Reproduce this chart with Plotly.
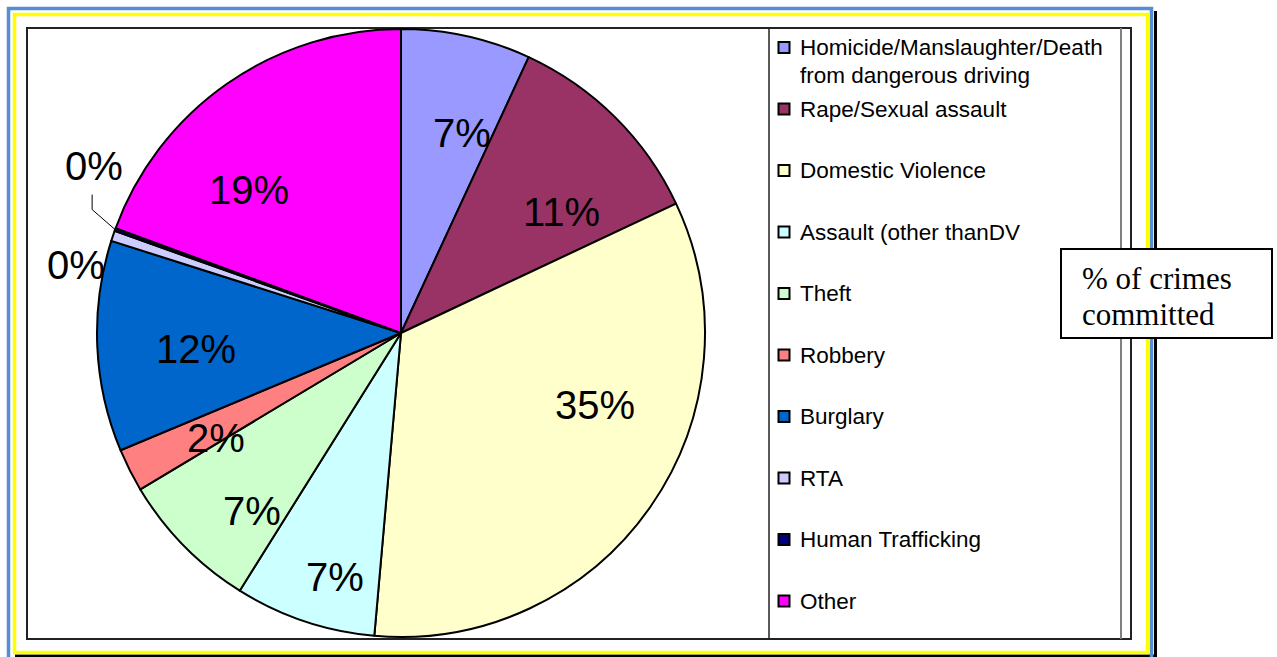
import math
import plotly.graph_objects as go

# ---------------- data ----------------
categories = ["Homicide/Manslaughter/Death from dangerous driving", "Rape/Sexual assault",
              "Domestic Violence", "Assault (other thanDV", "Theft", "Robbery", "Burglary",
              "RTA", "Human Trafficking", "Other"]
legend_labels = ["Homicide/Manslaughter/Death<br>from dangerous driving", "Rape/Sexual assault",
                 "Domestic Violence", "Assault (other thanDV", "Theft", "Robbery", "Burglary",
                 "RTA", "Human Trafficking", "Other"]
shares = [6.9, 11.1, 33.4, 7.5, 7.5, 2.3, 11.2, 0.55, 0.15, 19.4]
pct_labels = ["7%", "11%", "35%", "7%", "7%", "2%", "12%", "0%", "0%", "19%"]
colors = ["#9999FF", "#993366", "#FFFFCC", "#CCFFFF", "#CCFFCC", "#FF8080",
          "#0066CC", "#CCCCFF", "#000080", "#FF00FF"]
box_lines = ["% of crimes", "committed"]

# ---------------- layout constants (pixels) ----------------
W, H = 1277, 657
CX, CY, R = 401, 333, 304
FONT = "Liberation Sans, Arial, sans-serif"


def px(x):
    return x / W


def py(y):
    return 1 - y / H


# per-label nudges (pixels) to imitate the original label placement
label_nudge = [(17, 2), (15, 26), (24, -46), (0, 48), (-1, 33), (-1, 12), (2, 7),
               (-37, 29), (0, 0), (-34, 27)]

fig = go.Figure()
fig.add_trace(go.Pie(
    labels=categories, values=shares, sort=False, direction="clockwise", rotation=0,
    marker=dict(colors=colors, line=dict(color="black", width=2)),
    textinfo="none", hoverinfo="label+percent", showlegend=False,
    domain=dict(x=[px(CX - R), px(CX + R)], y=[py(CY + R), py(CY - R)]),
))

shapes = []
annotations = []

# frame
shapes.append(dict(type="rect", xref="paper", yref="paper", x0=px(1154), x1=px(1157), y0=py(660), y1=py(11),
                   line=dict(width=0), fillcolor="black", layer="below"))
shapes.append(dict(type="rect", xref="paper", yref="paper", x0=px(15), x1=px(1157), y0=py(657.5), y1=py(654.5),
                   line=dict(width=0), fillcolor="black", layer="below"))
shapes.append(dict(type="rect", xref="paper", yref="paper", x0=px(8.5), x1=px(1151.5), y0=py(662), y1=py(8.5),
                   line=dict(color="#558ED5", width=3.5), layer="below"))
shapes.append(dict(type="rect", xref="paper", yref="paper", x0=px(14.5), x1=px(1147.5), y0=py(652.5), y1=py(14.5),
                   line=dict(color="#FFFF00", width=3.5), layer="below"))
# plot area border
shapes.append(dict(type="rect", xref="paper", yref="paper", x0=px(27), x1=px(1131), y0=py(639), y1=py(28),
                   line=dict(color="#222222", width=2), layer="below"))
# legend box
shapes.append(dict(type="line", xref="paper", yref="paper", x0=px(769), x1=px(769), y0=py(639), y1=py(28),
                   line=dict(color="#222222", width=1.5), layer="below"))
shapes.append(dict(type="line", xref="paper", yref="paper", x0=px(1121), x1=px(1121), y0=py(639), y1=py(28),
                   line=dict(color="#808080", width=2), layer="below"))

# slice labels, computed from the cumulative shares
total = sum(shares)
cum = 0.0
mids = []
for v in shares:
    mids.append((cum + v / 2) / total * 2 * math.pi)
    cum += v

LABEL_SIZE = 40
for i, (lab, th) in enumerate(zip(pct_labels, mids)):
    if i == 8:
        continue
    rr = 0.68 * R if i != 7 else R
    x = CX + rr * math.sin(th) + label_nudge[i][0]
    y = CY - rr * math.cos(th) + label_nudge[i][1]
    annotations.append(dict(x=px(x), y=py(y), xref="paper", yref="paper", text=lab, showarrow=False,
                            font=dict(family=FONT, size=LABEL_SIZE, color="black"),
                            xanchor="center", yanchor="middle"))

# human trafficking label with bent leader line
th = mids[8]
rx, ry = CX + R * math.sin(th), CY - R * math.cos(th)
kx, ky = rx - 23, ry - 20
tx, ty = kx, ky - 15
shapes.append(dict(type="path", xref="paper", yref="paper",
                   path=f"M {px(rx)} {py(ry)} L {px(kx)} {py(ky)} L {px(tx)} {py(ty)}",
                   line=dict(color="black", width=1), layer="above"))
annotations.append(dict(x=px(tx + 2), y=py(ty - 29), xref="paper", yref="paper", text=pct_labels[8],
                        showarrow=False, font=dict(family=FONT, size=LABEL_SIZE, color="black"),
                        xanchor="center", yanchor="middle"))

# manual legend
ROW0, ROWSTEP, LINEH = 47.5, 61.5, 28
for i, (lab, col) in enumerate(zip(legend_labels, colors)):
    yc = ROW0 + i * ROWSTEP
    shapes.append(dict(type="rect", xref="paper", yref="paper", x0=px(778.5), x1=px(789.5),
                       y0=py(yc + 5.5), y1=py(yc - 5.5), fillcolor=col,
                       line=dict(color="black", width=2), layer="above"))
    for j, part in enumerate(lab.split("<br>")):
        annotations.append(dict(x=px(798), y=py(yc + j * LINEH), xref="paper", yref="paper",
                                text=part, showarrow=False, align="left",
                                font=dict(family=FONT, size=22.5, color="black"),
                                xanchor="left", yanchor="middle"))

# text box
shapes.append(dict(type="rect", xref="paper", yref="paper", x0=px(1061), x1=px(1272), y0=py(338), y1=py(249),
                   fillcolor="white", line=dict(color="black", width=2), layer="above"))
for j, part in enumerate(box_lines):
    annotations.append(dict(x=px(1080), y=py(279 + j * 36), xref="paper", yref="paper", text=part,
                            showarrow=False, align="left",
                            font=dict(family="Liberation Serif, Times New Roman, serif", size=31, color="black"),
                            xanchor="left", yanchor="middle"))

fig.update_layout(width=W, height=H, margin=dict(l=0, r=0, t=0, b=0),
                  paper_bgcolor="white", plot_bgcolor="white",
                  shapes=shapes, annotations=annotations)
fig.write_html("out.html", config={"displayModeBar": False},
               post_script="document.body.style.margin='0';document.body.style.padding='0';")
